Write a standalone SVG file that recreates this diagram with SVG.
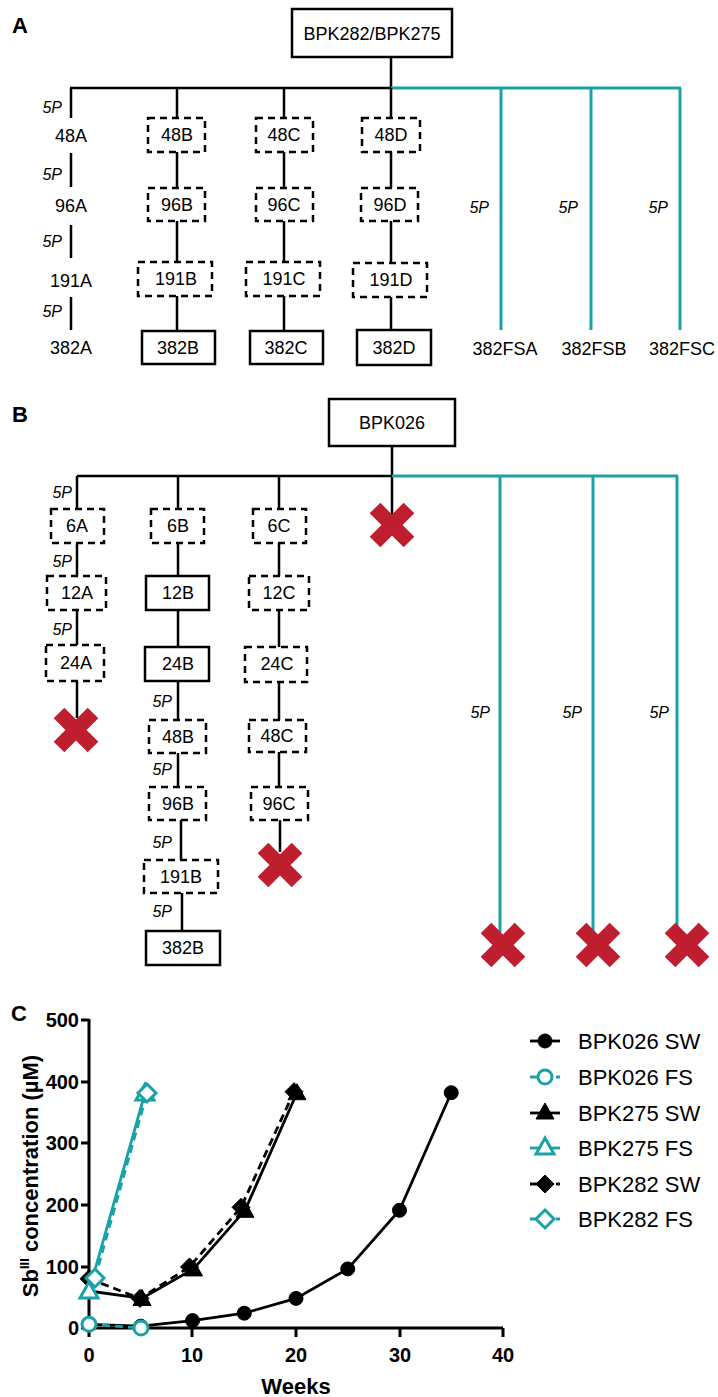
<svg xmlns="http://www.w3.org/2000/svg" xmlns:xlink="http://www.w3.org/1999/xlink" width="718" height="1397" viewBox="0 0 718 1397">
<style>
text{font-family:"Liberation Sans",Arial,sans-serif;fill:#000}
.box{fill:#fff;stroke:#000;stroke-width:2.5}
.dbox{fill:#fff;stroke:#000;stroke-width:2.5;stroke-dasharray:7 5}
.lbl{font-size:18px;text-anchor:middle}
.p5{font-size:16px;font-style:italic;text-anchor:end}
.pl{font-size:22px;font-weight:bold}
.ln{stroke:#000;stroke-width:2.5;fill:none}
.tl{stroke:#1ba1a8;stroke-width:3;fill:none}
.ax{stroke:#000;stroke-width:3;fill:none}
.tick{font-size:20px;font-weight:bold}
.s-blk{stroke:#000;stroke-width:2.8;fill:none}
.s-teal{stroke:#1ba1a8;stroke-width:2.8;fill:none}
.dash{stroke-dasharray:8 5}
.mk-f{fill:#000;stroke:#000;stroke-width:1}
.mk-o{fill:#fff;stroke:#1ba1a8;stroke-width:3}
.leg{font-size:22px}
</style>
<defs>
<g id="redx"><path d="M-17,-17L17,17M-17,17L17,-17" stroke="#be1e2d" stroke-width="15" fill="none"/></g>
<circle id="mcirc" r="7"/>
<path id="mtri" d="M0,-9L9,7L-9,7Z"/>
<path id="mdia" d="M0,-9L9,0L0,9L-9,0Z"/>
</defs>

<!-- Panel labels -->
<text class="pl" x="12" y="33">A</text>
<text class="pl" x="12" y="422">B</text>
<text class="pl" x="11" y="1021">C</text>

<!-- ===== Panel A connectors ===== -->
<g id="connectors-A">
<path class="ln" d="M391,57V88M70,88H391"/>
<path class="tl" d="M391,88H681M501,88V330M591,88V330M680,88V330"/>
<path class="ln" d="M71,88V118M71,153V187M71,225V258M71,297V330"/>
<path class="ln" d="M177,88V118M177,152V188M177,221V262M177,296V331"/>
<path class="ln" d="M284,88V118M284,152V188M284,221V262M284,296V331"/>
<path class="ln" d="M391,88V118M391,152V188M391,221V263M391,297V330"/>
<text class="p5" x="62" y="113">5P</text>
<text class="p5" x="62" y="180">5P</text>
<text class="p5" x="62" y="247">5P</text>
<text class="p5" x="62" y="317">5P</text>
<text class="p5" x="489" y="213">5P</text>
<text class="p5" x="578" y="213">5P</text>
<text class="p5" x="668" y="213">5P</text>
</g>

<!-- ===== Panel A nodes ===== -->
<g id="A-root"><rect class="box" x="292" y="9" width="160" height="48"/><text class="lbl" x="372" y="40">BPK282/BPK275</text></g>
<g id="A-48A"><text class="lbl" x="71" y="142">48A</text></g>
<g id="A-96A"><text class="lbl" x="71" y="212">96A</text></g>
<g id="A-191A"><text class="lbl" x="71" y="287">191A</text></g>
<g id="A-382A"><text class="lbl" x="71" y="354">382A</text></g>
<g id="A-48B"><rect class="dbox" x="148" y="118" width="57" height="34"/><text class="lbl" x="177" y="141">48B</text></g>
<g id="A-96B"><rect class="dbox" x="148" y="188" width="57" height="33"/><text class="lbl" x="177" y="211">96B</text></g>
<g id="A-191B"><rect class="dbox" x="138" y="262" width="74" height="34"/><text class="lbl" x="176" y="285">191B</text></g>
<g id="A-382B"><rect class="box" x="142" y="331" width="73" height="33"/><text class="lbl" x="178" y="354">382B</text></g>
<g id="A-48C"><rect class="dbox" x="256" y="118" width="57" height="34"/><text class="lbl" x="284" y="141">48C</text></g>
<g id="A-96C"><rect class="dbox" x="256" y="188" width="57" height="33"/><text class="lbl" x="284" y="211">96C</text></g>
<g id="A-191C"><rect class="dbox" x="246" y="262" width="74" height="34"/><text class="lbl" x="284" y="285">191C</text></g>
<g id="A-382C"><rect class="box" x="250" y="331" width="73" height="33"/><text class="lbl" x="286" y="354">382C</text></g>
<g id="A-48D"><rect class="dbox" x="362" y="118" width="58" height="34"/><text class="lbl" x="391" y="141">48D</text></g>
<g id="A-96D"><rect class="dbox" x="361" y="188" width="57" height="33"/><text class="lbl" x="390" y="211">96D</text></g>
<g id="A-191D"><rect class="dbox" x="353" y="263" width="74" height="34"/><text class="lbl" x="391" y="286">191D</text></g>
<g id="A-382D"><rect class="box" x="357" y="330" width="74" height="35"/><text class="lbl" x="394" y="354">382D</text></g>
<g id="A-382FSA"><text class="lbl" x="505" y="355">382FSA</text></g>
<g id="A-382FSB"><text class="lbl" x="594" y="355">382FSB</text></g>
<g id="A-382FSC"><text class="lbl" x="682" y="355">382FSC</text></g>

<!-- ===== Panel B connectors ===== -->
<g id="connectors-B">
<path class="ln" d="M392,446V515M77,476H392"/>
<path class="tl" d="M392,476H678M500,476V932M593,476V932M677,476V932"/>
<path class="ln" d="M77,476V509M77,543V576M77,610V645M77,681V718"/>
<path class="ln" d="M178,476V509M178,543V576M178,610V647M178,681V720M178,753V787M181,820V860M182,893V931"/>
<path class="ln" d="M279,476V509M279,543V576M279,610V647M279,682V720M279,752V787M280,820V852"/>
<text class="p5" x="72" y="498">5P</text>
<text class="p5" x="72" y="567">5P</text>
<text class="p5" x="72" y="635">5P</text>
<text class="p5" x="172" y="707">5P</text>
<text class="p5" x="172" y="775">5P</text>
<text class="p5" x="172" y="848">5P</text>
<text class="p5" x="172" y="917">5P</text>
<text class="p5" x="490" y="718">5P</text>
<text class="p5" x="582" y="718">5P</text>
<text class="p5" x="669" y="718">5P</text>
</g>

<!-- ===== Panel B nodes ===== -->
<g id="B-root"><rect class="box" x="329" y="399" width="126" height="47"/><text class="lbl" x="392" y="429">BPK026</text></g>
<g id="B-6A"><rect class="dbox" x="51" y="509" width="53" height="34"/><text class="lbl" x="77" y="532">6A</text></g>
<g id="B-12A"><rect class="dbox" x="47" y="576" width="59" height="34"/><text class="lbl" x="77" y="599">12A</text></g>
<g id="B-24A"><rect class="dbox" x="46" y="645" width="58" height="36"/><text class="lbl" x="76" y="669">24A</text></g>
<g id="B-6B"><rect class="dbox" x="151" y="509" width="53" height="34"/><text class="lbl" x="178" y="532">6B</text></g>
<g id="B-12B"><rect class="box" x="146" y="576" width="63" height="34"/><text class="lbl" x="178" y="599">12B</text></g>
<g id="B-24B"><rect class="box" x="145" y="647" width="64" height="34"/><text class="lbl" x="178" y="670">24B</text></g>
<g id="B-48B"><rect class="dbox" x="149" y="720" width="57" height="33"/><text class="lbl" x="178" y="743">48B</text></g>
<g id="B-96B"><rect class="dbox" x="149" y="787" width="57" height="33"/><text class="lbl" x="178" y="810">96B</text></g>
<g id="B-191B"><rect class="dbox" x="144" y="860" width="74" height="33"/><text class="lbl" x="181" y="883">191B</text></g>
<g id="B-382B"><rect class="box" x="146" y="931" width="74" height="34"/><text class="lbl" x="183" y="954">382B</text></g>
<g id="B-6C"><rect class="dbox" x="253" y="509" width="53" height="34"/><text class="lbl" x="279" y="532">6C</text></g>
<g id="B-12C"><rect class="dbox" x="249" y="576" width="60" height="34"/><text class="lbl" x="279" y="599">12C</text></g>
<g id="B-24C"><rect class="dbox" x="245" y="647" width="62" height="35"/><text class="lbl" x="277" y="670">24C</text></g>
<g id="B-48C"><rect class="dbox" x="249" y="720" width="57" height="32"/><text class="lbl" x="277" y="742">48C</text></g>
<g id="B-96C"><rect class="dbox" x="251" y="787" width="57" height="33"/><text class="lbl" x="279" y="810">96C</text></g>
<g id="B-crosses">
<use xlink:href="#redx" href="#redx" transform="translate(392,525)"/>
<use xlink:href="#redx" href="#redx" transform="translate(76,730)"/>
<use xlink:href="#redx" href="#redx" transform="translate(280,865)"/>
<use xlink:href="#redx" href="#redx" transform="translate(503,945)"/>
<use xlink:href="#redx" href="#redx" transform="translate(598,945)"/>
<use xlink:href="#redx" href="#redx" transform="translate(687,945)"/>
</g>

<!-- ===== Panel C chart ===== -->
<g id="chart-axes">
<path class="ax" d="M89,1019V1328H503"/>
<path class="ax" d="M81,1020H89M81,1082H89M81,1143H89M81,1205H89M81,1267H89M81,1328H89"/>
<path class="ax" d="M89,1328V1337M192,1328V1337M296,1328V1337M400,1328V1337M503,1328V1337"/>
<g class="tick" text-anchor="end">
<text x="79" y="1027">500</text>
<text x="79" y="1089">400</text>
<text x="79" y="1150">300</text>
<text x="79" y="1212">200</text>
<text x="79" y="1274">100</text>
<text x="79" y="1335">0</text>
</g>
<g class="tick" text-anchor="middle">
<text x="89" y="1362">0</text>
<text x="192" y="1362">10</text>
<text x="296" y="1362">20</text>
<text x="400" y="1362">30</text>
<text x="503" y="1362">40</text>
</g>
<text x="296" y="1394" font-size="22" font-weight="bold" text-anchor="middle">Weeks</text>
<text transform="translate(38,1176) rotate(-90)" font-size="22" font-weight="bold" text-anchor="middle">Sb<tspan font-size="13" dy="-9">III</tspan><tspan dy="9"> concentration (µM)</tspan></text>
</g>

<g id="series">
<!-- BPK026 SW -->
<polyline class="s-blk" points="89,1324.3 140.75,1326.2 192.5,1320.6 244.25,1313.2 296,1298.4 347.75,1268.9 399.5,1210.3 451.25,1092.7"/>
<g class="mk-f">
<use href="#mcirc" x="89" y="1324.3"/><use href="#mcirc" x="140.75" y="1326.2"/><use href="#mcirc" x="192.5" y="1320.6"/><use href="#mcirc" x="244.25" y="1313.2"/><use href="#mcirc" x="296" y="1298.4"/><use href="#mcirc" x="347.75" y="1268.9"/><use href="#mcirc" x="399.5" y="1210.3"/><use href="#mcirc" x="451.25" y="1092.7"/>
</g>
<!-- BPK275 SW -->
<polyline class="s-blk" points="89,1291 142,1298.4 193.5,1268.9 245,1210.3 297,1092.7"/>
<g class="mk-f">
<use href="#mtri" x="89" y="1291"/><use href="#mtri" x="142" y="1298.4"/><use href="#mtri" x="193.5" y="1268.9"/><use href="#mtri" x="245" y="1210.3"/><use href="#mtri" x="297" y="1092.7"/>
</g>
<!-- BPK282 SW -->
<polyline class="s-blk dash" points="89,1278.7 140,1298.4 189.5,1266.9 241,1207.3 294,1091.7"/>
<g class="mk-f">
<use href="#mdia" x="89" y="1278.7"/><use href="#mdia" x="140" y="1298.4"/><use href="#mdia" x="189.5" y="1266.9"/><use href="#mdia" x="241" y="1207.3"/><use href="#mdia" x="294" y="1091.7"/>
</g>
<!-- BPK026 FS -->
<polyline class="s-teal dash" points="89,1324.3 141,1328"/>
<g class="mk-o"><use href="#mcirc" x="89" y="1324.3"/><use href="#mcirc" x="141" y="1328"/></g>
<!-- BPK275 FS -->
<polyline class="s-teal" points="89,1291 145,1093"/>
<g class="mk-o"><use href="#mtri" x="89" y="1291"/><use href="#mtri" x="145" y="1093"/></g>
<!-- BPK282 FS -->
<polyline class="s-teal dash" points="95,1278 147,1093"/>
<g class="mk-o"><use href="#mdia" x="95" y="1278"/><use href="#mdia" x="147" y="1093"/></g>
</g>

<g id="legend">
<line class="s-blk" x1="530" y1="1041" x2="560" y2="1041"/><use class="mk-f" href="#mcirc" x="545" y="1041"/>
<text class="leg" x="578" y="1049">BPK026 SW</text>
<line class="s-teal dash" x1="530" y1="1077" x2="560" y2="1077"/><use class="mk-o" href="#mcirc" x="545" y="1077"/>
<text class="leg" x="578" y="1085">BPK026 FS</text>
<line class="s-blk" x1="530" y1="1113" x2="560" y2="1113"/><use class="mk-f" href="#mtri" x="545" y="1112"/>
<text class="leg" x="578" y="1121">BPK275 SW</text>
<line class="s-teal" x1="530" y1="1148" x2="560" y2="1148"/><use class="mk-o" href="#mtri" x="545" y="1147"/>
<text class="leg" x="578" y="1156">BPK275 FS</text>
<line class="s-blk dash" x1="530" y1="1184" x2="560" y2="1184"/><use class="mk-f" href="#mdia" x="545" y="1184"/>
<text class="leg" x="578" y="1192">BPK282 SW</text>
<line class="s-teal dash" x1="530" y1="1219" x2="560" y2="1219"/><use class="mk-o" href="#mdia" x="545" y="1219"/>
<text class="leg" x="578" y="1227">BPK282 FS</text>
</g>
</svg>
